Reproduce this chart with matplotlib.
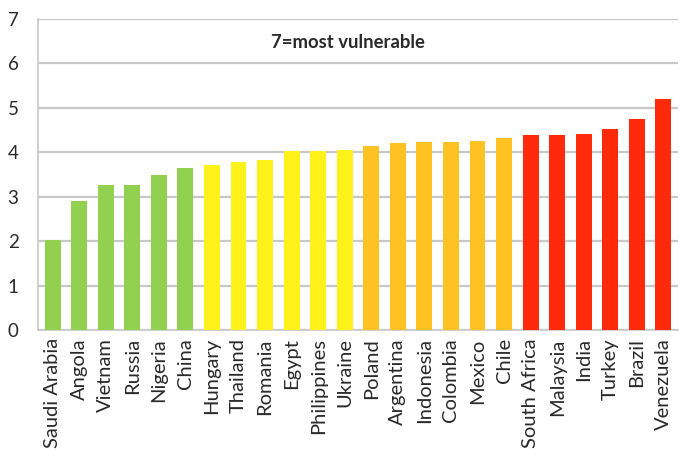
import matplotlib
matplotlib.use("Agg")
import matplotlib.pyplot as plt

countries = ["Saudi Arabia", "Angola", "Vietnam", "Russia", "Nigeria", "China",
             "Hungary", "Thailand", "Romania", "Egypt", "Philippines", "Ukraine",
             "Poland", "Argentina", "Indonesia", "Colombia", "Mexico", "Chile",
             "South Africa", "Malaysia", "India", "Turkey", "Brazil", "Venezuela"]
scores = [2.02, 2.90, 3.27, 3.27, 3.48, 3.65,
          3.71, 3.78, 3.82, 4.02, 4.02, 4.06,
          4.15, 4.20, 4.23, 4.23, 4.25, 4.33,
          4.38, 4.38, 4.42, 4.53, 4.76, 5.21]
groups = ["low"] * 6 + ["mid"] * 6 + ["high"] * 6 + ["top"] * 6
group_colors = {"low": "#92D050", "mid": "#FFF21A", "high": "#FFC222", "top": "#FF2A0A"}
y_ticks = [0, 1, 2, 3, 4, 5, 6, 7]
note = "7=most vulnerable"

font = ["Lato", "DejaVu Sans"]
text_color = "#2a2a2a"

fig = plt.figure(figsize=(6.81, 4.70), dpi=100)
ax = fig.add_axes([38 / 681, 1 - 330 / 470, (678 - 38) / 681, (330 - 19) / 470])

x = range(len(countries))
ax.bar(x, scores, width=0.6, color=[group_colors[g] for g in groups], zorder=3)

ax.set_xlim(-0.55, len(countries) - 0.45)
ax.set_ylim(0, 7)
ax.set_yticks(y_ticks)
ax.set_yticklabels([str(t) for t in y_ticks], fontsize=13.5, family=font, color=text_color)
ax.set_xticks(list(x))
ax.set_xticklabels(countries, rotation=90, fontsize=14.5, family=font, color=text_color)
ax.tick_params(axis="both", length=0)
ax.tick_params(axis="y", pad=14)
ax.tick_params(axis="x", pad=6)

ax.grid(axis="y", color="#c8c8c8", linewidth=1.6, zorder=0)
for side in ("top", "right"):
    ax.spines[side].set_visible(False)
ax.spines["left"].set_color("#c8c8c8")
ax.spines["left"].set_linewidth(1.2)
ax.spines["bottom"].set_color("#c8c8c8")
ax.spines["bottom"].set_linewidth(1.2)

ax.text(0.485, 0.925, note, transform=ax.transAxes, ha="center", va="center",
        fontsize=13.3, fontweight="bold", family=font, color=text_color)

fig.savefig("out.png", dpi=100)
